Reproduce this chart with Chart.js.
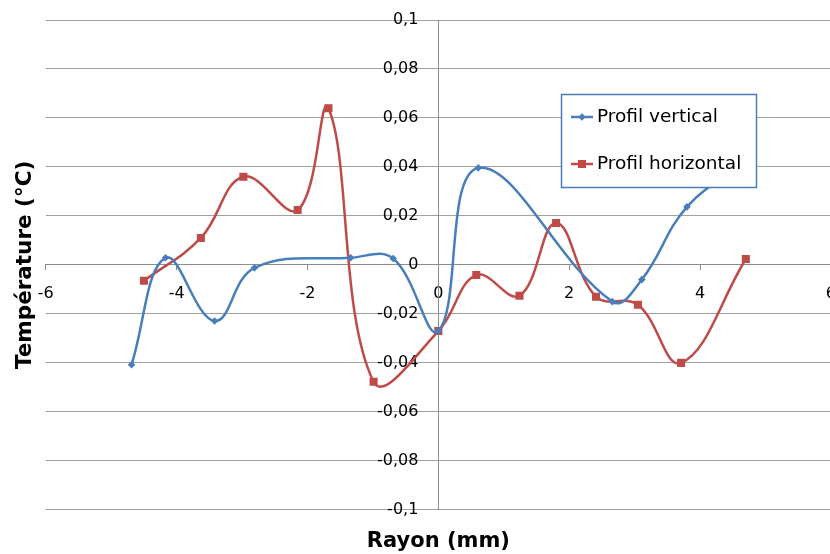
<!DOCTYPE html>
<html>
<head>
<meta charset="utf-8">
<script src="https://cdn.jsdelivr.net/npm/chart.js@4.4.1/dist/chart.umd.min.js"></script>
<style>
  html, body { margin: 0; padding: 0; background: #fff; overflow: hidden; }
  #wrap { width: 850px; height: 554px; }
</style>
</head>
<body>
<div id="wrap"><canvas id="c" width="850" height="554"></canvas></div>
<script>
// ---- Data ----
const seriesNames = ['Profil vertical', 'Profil horizontal'];
const verticalX = [-4.69, -4.17, -3.42, -2.81, -1.34, -0.69, 0.0, 0.61, 2.66, 3.11, 3.80, 4.70];
const verticalY = [-0.0408, 0.0029, -0.0229, -0.0012, 0.0029, 0.0026, -0.0270, 0.0396, -0.0150, -0.0060, 0.0237, 0.0420];
const horizontalX = [-4.50, -3.63, -2.98, -2.15, -1.68, -0.99, 0.0, 0.58, 1.24, 1.80, 2.41, 3.05, 3.71, 4.70];
const horizontalY = [-0.0065, 0.0110, 0.0360, 0.0224, 0.0640, -0.0477, -0.0270, -0.0041, -0.0126, 0.0171, -0.0130, -0.0163, -0.0400, 0.0024];
const xTickValues = [-6, -4, -2, 0, 2, 4, 6];
const xTickLabels = ['-6', '-4', '-2', '0', '2', '4', '6'];
const yTickValues = [-0.1, -0.08, -0.06, -0.04, -0.02, 0, 0.02, 0.04, 0.06, 0.08, 0.1];
const yTickLabels = ['-0,1', '-0,08', '-0,06', '-0,04', '-0,02', '0', '0,02', '0,04', '0,06', '0,08', '0,1'];
const xTitle = 'Rayon (mm)';
const yTitle = 'Température (°C)';

const toPoints = (xs, ys) => xs.map((x, i) => ({ x: x, y: ys[i] }));

const BLUE = '#4A7EBB';
const RED = '#BE4B48';
const GRID = '#A0A0A0';
const AXIS = '#8C8C8C';
const FONT = '"DejaVu Sans", Verdana, sans-serif';

function drawMarker(ctx, style, x, y, color) {
  ctx.save();
  ctx.fillStyle = color;
  ctx.beginPath();
  if (style === 'rect') {
    ctx.rect(x - 4, y - 4, 8, 8);
  } else {
    ctx.moveTo(x, y - 3.8); ctx.lineTo(x + 3.8, y); ctx.lineTo(x, y + 3.8); ctx.lineTo(x - 3.8, y);
    ctx.closePath();
  }
  ctx.fill();
  ctx.restore();
}

const boxLegend = {
  id: 'boxLegend',
  afterDraw(chart) {
    const ctx = chart.ctx;
    ctx.save();
    ctx.fillStyle = '#ffffff';
    ctx.fillRect(561, 94, 196, 94);
    ctx.strokeStyle = BLUE;
    ctx.lineWidth = 1.5;
    ctx.strokeRect(561.5, 94.5, 195, 93);
    chart.data.datasets.forEach((ds, i) => {
      const y = 117 + i * 47;
      ctx.strokeStyle = ds.borderColor;
      ctx.lineWidth = 2.5;
      ctx.beginPath();
      ctx.moveTo(571, y); ctx.lineTo(593, y);
      ctx.stroke();
      drawMarker(ctx, ds.pointStyle, 582, y, ds.borderColor);
      ctx.fillStyle = '#000';
      ctx.font = '18.5px ' + FONT;
      ctx.textBaseline = 'middle';
      ctx.textAlign = 'left';
      ctx.fillText(ds.label, 597, y);
    });
    ctx.restore();
  }
};

const yTicksFromArray = (s) => { s.ticks = yTickValues.map(v => ({ value: v })); };

new Chart(document.getElementById('c'), {
  type: 'scatter',
  data: {
    datasets: [
      {
        label: seriesNames[0],
        data: toPoints(verticalX, verticalY),
        showLine: true,
        borderColor: BLUE,
        backgroundColor: BLUE,
        borderWidth: 2.5,
        pointStyle: 'rectRot',
        pointRadius: 3.8,
        pointBorderWidth: 0,
        tension: 0.4
      },
      {
        label: seriesNames[1],
        data: toPoints(horizontalX, horizontalY),
        showLine: true,
        borderColor: RED,
        backgroundColor: RED,
        borderWidth: 2.5,
        pointStyle: 'rect',
        pointRadius: 5.7,
        pointBorderWidth: 0,
        tension: 0.4
      }
    ]
  },
  options: {
    responsive: false,
    animation: false,
    devicePixelRatio: 1,
    layout: { padding: { top: 20, right: 0, bottom: 0, left: 1 } },
    plugins: { legend: { display: false }, tooltip: { enabled: false } },
    scales: {
      x: {
        type: 'linear',
        position: { y: 0 },
        min: -6, max: 6,
        afterBuildTicks: (s) => { s.ticks = xTickValues.map(v => ({ value: v })); },
        ticks: {
          callback: (v, i) => xTickLabels[i],
          font: { family: FONT, size: 16 },
          color: '#000',
          padding: 14,
          maxRotation: 0,
          autoSkip: false
        },
        grid: { drawOnChartArea: false, tickLength: 5, color: AXIS, lineWidth: 1 },
        border: { display: true, color: AXIS, width: 1 }
      },
      y: {
        type: 'linear',
        position: { x: 0 },
        min: -0.1, max: 0.1,
        afterBuildTicks: yTicksFromArray,
        ticks: { display: false },
        grid: { color: GRID, lineWidth: 1, tickLength: 5 },
        border: { display: true, color: AXIS, width: 1 }
      },
      yLab: {
        type: 'linear',
        position: { x: -0.306 },
        min: -0.1, max: 0.1,
        afterBuildTicks: yTicksFromArray,
        ticks: {
          callback: (v, i) => yTickLabels[i],
          font: { family: FONT, size: 16 },
          color: '#000',
          padding: 0,
          autoSkip: false
        },
        grid: { display: false, drawTicks: false },
        border: { display: false }
      },
      xT: {
        type: 'linear',
        position: 'bottom',
        min: 0, max: 1,
        ticks: { display: false },
        grid: { display: false, drawTicks: false },
        border: { display: false },
        title: { display: true, text: xTitle, color: '#000', font: { family: FONT, size: 21, weight: 'bold' }, padding: { top: 19, bottom: 0 } }
      },
      yT: {
        type: 'linear',
        position: 'left',
        min: 0, max: 1,
        ticks: { display: false },
        grid: { display: false, drawTicks: false },
        border: { display: false },
        title: { display: true, text: yTitle, color: '#000', font: { family: FONT, size: 21.5, weight: 'bold' }, padding: { top: 12, bottom: 7 } }
      }
    }
  },
  plugins: [boxLegend]
});
</script>
</body>
</html>
